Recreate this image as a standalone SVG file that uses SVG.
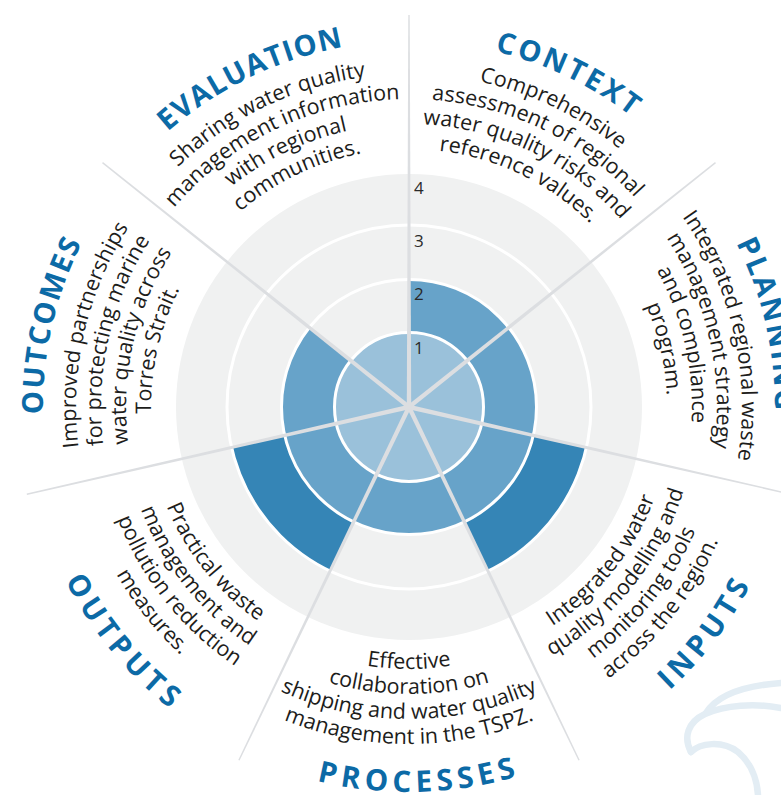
<svg xmlns="http://www.w3.org/2000/svg" width="781" height="795" viewBox="0 0 781 795">
<style>
.body{font-family:"Open Sans","Liberation Sans",sans-serif;font-size:21.5px;fill:#1d1d1b;}
.head{font-family:"Open Sans","Liberation Sans",sans-serif;font-size:29px;font-weight:700;fill:#0c6aa6;letter-spacing:2.5px;}
.headb{font-family:"Open Sans","Liberation Sans",sans-serif;font-size:29.5px;font-weight:700;fill:#0c6aa6;letter-spacing:5px;}
.num{font-family:"Open Sans","Liberation Sans",sans-serif;font-size:17px;fill:#2a2a2a;}
.ring{fill:none;stroke:#ffffff;stroke-width:3;}
.sep{fill:#dcdee1;}
.wm{fill:none;stroke:#e3edf4;stroke-width:6.5;stroke-linecap:round;}
</style>
<defs>
<path id="t1" d="M-312.92,-113.89 A333,333 0 0 1 312.92,-113.89"/>
<path id="t2" d="M-289.42,-105.34 A308,308 0 0 1 289.42,-105.34"/>
<path id="t3" d="M-265.93,-96.79 A283,283 0 0 1 265.93,-96.79"/>
<path id="t4" d="M-242.44,-88.24 A258,258 0 0 1 242.44,-88.24"/>
<path id="th" d="M-343.93,-125.18 A366,366 0 0 1 343.93,-125.18"/>
<path id="b1" d="M-246.20,89.61 A262,262 0 0 0 246.20,89.61"/>
<path id="b2" d="M-269.69,98.16 A287,287 0 0 0 269.69,98.16"/>
<path id="b3" d="M-293.18,106.71 A312,312 0 0 0 293.18,106.71"/>
<path id="b4" d="M-316.68,115.26 A337,337 0 0 0 316.68,115.26"/>
<path id="bh" d="M-361.78,131.68 A385,385 0 0 0 361.78,131.68"/>
<polygon id="sepline" class="sep" points="-2.2,0 -0.7,-392 0.7,-392 2.2,0"/>
</defs>
<rect width="781" height="795" fill="#ffffff"/>

<g id="watermark">
<path class="wm" d="M706,713 C716,697 740,686 781,683"/>
<path class="wm" d="M691,752 C683,737 688,722 705,714 C725,705 755,703 781,708"/>
<path class="wm" d="M691,752 C700,743 722,740 738,752 C750,762 757,778 758,795"/>
</g>

<g id="chart">
<circle cx="409" cy="407" r="233" fill="#f0f1f1"/>
<path d="M409,407 L586.44,447.5 A182,182 0 0 1 487.97,570.98 Z" fill="#3585b6"/>
<path d="M409,407 L330.03,570.98 A182,182 0 0 1 231.56,447.5 Z" fill="#3585b6"/>
<path d="M409,407 L409,279 A128,128 0 1 1 308.93,327.19 Z" fill="#67a3c9"/>
<circle cx="409" cy="407" r="74" fill="#9ac1da"/>
<circle class="ring" cx="409" cy="407" r="74.5"/>
<circle class="ring" cx="409" cy="407" r="127.5"/>
<circle class="ring" cx="409" cy="407" r="182"/>
</g>

<g id="separators">
<use href="#sepline" transform="translate(409,407) rotate(0)"/>
<use href="#sepline" transform="translate(409,407) rotate(51.4286)"/>
<use href="#sepline" transform="translate(409,407) rotate(102.857)"/>
<use href="#sepline" transform="translate(409,407) rotate(154.286)"/>
<use href="#sepline" transform="translate(409,407) rotate(205.714)"/>
<use href="#sepline" transform="translate(409,407) rotate(257.143)"/>
<use href="#sepline" transform="translate(409,407) rotate(308.571)"/>
</g>

<g id="scale">
<text class="num" x="414" y="194">4</text>
<text class="num" x="414" y="247">3</text>
<text class="num" x="414" y="300">2</text>
<text class="num" x="414" y="354">1</text>
</g>

<g id="context" transform="translate(409,407) rotate(25.714)">
<text class="head" style="letter-spacing:3px"><textPath href="#th" startOffset="50%" text-anchor="middle">CONTEXT</textPath></text>
<text class="body"><textPath href="#t1" startOffset="50%" text-anchor="middle">Comprehensive</textPath></text>
<text class="body"><textPath href="#t2" startOffset="50%" text-anchor="middle">assessment of regional</textPath></text>
<text class="body"><textPath href="#t3" startOffset="50%" text-anchor="middle">water quality risks and</textPath></text>
<text class="body"><textPath href="#t4" startOffset="50%" text-anchor="middle">reference values.</textPath></text>
</g>

<g id="planning" transform="translate(409,407) rotate(77.143)">
<text class="head"><textPath href="#th" startOffset="50%" text-anchor="middle">PLANNING</textPath></text>
<text class="body"><textPath href="#t1" startOffset="50%" text-anchor="middle">Integrated regional waste</textPath></text>
<text class="body"><textPath href="#t2" startOffset="50%" text-anchor="middle">management strategy</textPath></text>
<text class="body"><textPath href="#t3" startOffset="50%" text-anchor="middle">and compliance</textPath></text>
<text class="body"><textPath href="#t4" startOffset="50%" text-anchor="middle">program.</textPath></text>
</g>

<g id="inputs" transform="translate(409,407) rotate(-51.429)">
<text class="body"><textPath href="#b1" startOffset="50%" text-anchor="middle">Integrated water</textPath></text>
<text class="body"><textPath href="#b2" startOffset="50%" text-anchor="middle">quality modelling and</textPath></text>
<text class="body"><textPath href="#b3" startOffset="50%" text-anchor="middle">monitoring tools</textPath></text>
<text class="body"><textPath href="#b4" startOffset="50%" text-anchor="middle">across the region.</textPath></text>
<text class="headb"><textPath href="#bh" startOffset="51%" text-anchor="middle">INPUTS</textPath></text>
</g>

<g id="processes" transform="translate(409,407)">
<text class="body"><textPath href="#b1" startOffset="50%" text-anchor="middle">Effective</textPath></text>
<text class="body"><textPath href="#b2" startOffset="50%" text-anchor="middle">collaboration on</textPath></text>
<text class="body"><textPath href="#b3" startOffset="50%" text-anchor="middle">shipping and water quality</textPath></text>
<text class="body"><textPath href="#b4" startOffset="50%" text-anchor="middle">management in the TSPZ.</textPath></text>
<text class="headb"><textPath href="#bh" startOffset="51.1%" text-anchor="middle">PROCESSES</textPath></text>
</g>

<g id="outputs" transform="translate(409,407) rotate(51.429)">
<text class="body"><textPath href="#b1" startOffset="50%" text-anchor="middle">Practical waste</textPath></text>
<text class="body"><textPath href="#b2" startOffset="50%" text-anchor="middle">management and</textPath></text>
<text class="body"><textPath href="#b3" startOffset="50%" text-anchor="middle">pollution reduction</textPath></text>
<text class="body"><textPath href="#b4" startOffset="50%" text-anchor="middle">measures.</textPath></text>
<text class="headb"><textPath href="#bh" startOffset="50.7%" text-anchor="middle">OUTPUTS</textPath></text>
</g>

<g id="outcomes" transform="translate(409,407) rotate(-77.143)">
<text class="head" style="letter-spacing:2px"><textPath href="#th" startOffset="50%" text-anchor="middle">OUTCOMES</textPath></text>
<text class="body"><textPath href="#t1" startOffset="50%" text-anchor="middle">Improved partnerships</textPath></text>
<text class="body"><textPath href="#t2" startOffset="50%" text-anchor="middle">for protecting marine</textPath></text>
<text class="body"><textPath href="#t3" startOffset="50%" text-anchor="middle">water quality across</textPath></text>
<text class="body"><textPath href="#t4" startOffset="50%" text-anchor="middle">Torres Strait.</textPath></text>
</g>

<g id="evaluation" transform="translate(409,407) rotate(-25.714)">
<text class="head" style="letter-spacing:1.2px"><textPath href="#th" startOffset="50%" text-anchor="middle">EVALUATION</textPath></text>
<text class="body"><textPath href="#t1" startOffset="50%" text-anchor="middle">Sharing water quality</textPath></text>
<text class="body"><textPath href="#t2" startOffset="50%" text-anchor="middle">management information</textPath></text>
<text class="body"><textPath href="#t3" startOffset="50%" text-anchor="middle">with regional</textPath></text>
<text class="body"><textPath href="#t4" startOffset="50%" text-anchor="middle">communities.</textPath></text>
</g>
</svg>
